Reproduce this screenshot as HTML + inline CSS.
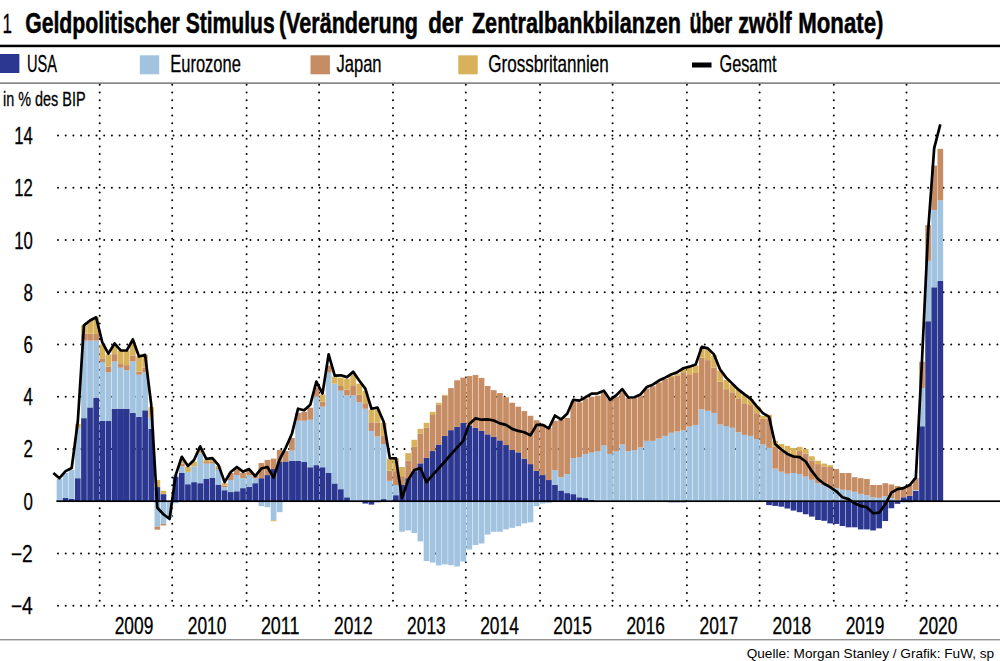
<!DOCTYPE html>
<html><head><meta charset="utf-8"><title>Geldpolitischer Stimulus</title>
<style>html,body{margin:0;padding:0;background:#fff}body{width:1000px;height:661px;overflow:hidden;font-family:"Liberation Sans",sans-serif}svg{display:block}text{font-family:"Liberation Sans",sans-serif;fill:#000}</style>
</head><body>
<svg width="1000" height="661" viewBox="0 0 1000 661">
<rect width="1000" height="661" fill="#fff"/>
<text x="2.6" y="32.8" font-size="28" textLength="9.5" lengthAdjust="spacingAndGlyphs" stroke="#000" stroke-width="0.3">1</text>
<text x="25.15" y="32.8" font-size="28.6" font-weight="bold" textLength="154.6" lengthAdjust="spacingAndGlyphs" stroke="#000" stroke-width="0.5">Geldpolitischer</text>
<text x="185.65" y="32.8" font-size="28.6" font-weight="bold" textLength="89.1" lengthAdjust="spacingAndGlyphs" stroke="#000" stroke-width="0.5">Stimulus</text>
<text x="278.9" y="32.8" font-size="28.6" font-weight="bold" textLength="139.1" lengthAdjust="spacingAndGlyphs" stroke="#000" stroke-width="0.5">(Veränderung</text>
<text x="428.15" y="32.8" font-size="28.6" font-weight="bold" textLength="34.85" lengthAdjust="spacingAndGlyphs" stroke="#000" stroke-width="0.5">der</text>
<text x="471.9" y="32.8" font-size="28.6" font-weight="bold" textLength="209.1" lengthAdjust="spacingAndGlyphs" stroke="#000" stroke-width="0.5">Zentralbankbilanzen</text>
<text x="689.4" y="32.8" font-size="28.6" font-weight="bold" textLength="42.85" lengthAdjust="spacingAndGlyphs" stroke="#000" stroke-width="0.5">über</text>
<text x="738.15" y="32.8" font-size="28.6" font-weight="bold" textLength="53.6" lengthAdjust="spacingAndGlyphs" stroke="#000" stroke-width="0.5">zwölf</text>
<text x="798.15" y="32.8" font-size="28.6" font-weight="bold" textLength="85.35" lengthAdjust="spacingAndGlyphs" stroke="#000" stroke-width="0.5">Monate)</text>
<rect x="0" y="44.7" width="1000" height="2.5" fill="#000"/>
<rect x="0" y="54" width="19.4" height="19" fill="#2b3790"/>
<rect x="139.8" y="55.3" width="19.4" height="19" fill="#a2c3e0"/>
<rect x="310.5" y="55.3" width="19.4" height="19" fill="#c68c64"/>
<rect x="458.3" y="55.3" width="19.4" height="19" fill="#d8b25a"/>
<rect x="692" y="62.5" width="19.5" height="5" fill="#000"/>
<text x="27" y="72.2" font-size="23.8" textLength="30" lengthAdjust="spacingAndGlyphs" stroke="#000" stroke-width="0.3">USA</text>
<text x="170.3" y="72.2" font-size="23.8" textLength="70.5" lengthAdjust="spacingAndGlyphs" stroke="#000" stroke-width="0.3">Eurozone</text>
<text x="336.5" y="72.2" font-size="23.8" textLength="45" lengthAdjust="spacingAndGlyphs" stroke="#000" stroke-width="0.3">Japan</text>
<text x="488.3" y="72.2" font-size="23.8" textLength="120.5" lengthAdjust="spacingAndGlyphs" stroke="#000" stroke-width="0.3">Grossbritannien</text>
<text x="719.5" y="72.2" font-size="23.8" textLength="57" lengthAdjust="spacingAndGlyphs" stroke="#000" stroke-width="0.3">Gesamt</text>
<rect x="0" y="82.5" width="1000" height="1.2" fill="#555"/>
<text x="3" y="106.2" font-size="19.3" textLength="82.6" lengthAdjust="spacingAndGlyphs" stroke="#000" stroke-width="0.3">in % des BIP</text>
<g stroke="#000" stroke-width="2" stroke-linecap="round" stroke-dasharray="0 7.7" fill="none">
<path d="M58 135.52H1001"/>
<path d="M58 187.76H1001"/>
<path d="M58 240H1001"/>
<path d="M58 292.24H1001"/>
<path d="M58 344.48H1001"/>
<path d="M58 396.72H1001"/>
<path d="M58 448.96H1001"/>
<path d="M58 553.44H1001"/>
<path d="M58 605.68H1001"/>
<path d="M99.7 84.8V607"/>
<path d="M172.2 84.8V607"/>
<path d="M246.6 84.8V607"/>
<path d="M319.1 84.8V607"/>
<path d="M393 84.8V607"/>
<path d="M465.8 84.8V607"/>
<path d="M540 84.8V607"/>
<path d="M612.6 84.8V607"/>
<path d="M686.9 84.8V607"/>
<path d="M759.6 84.8V607"/>
<path d="M833.8 84.8V607"/>
<path d="M906.5 84.8V607"/>
</g>
<text x="32.8" y="144.02" font-size="23.3" text-anchor="end" textLength="18.6" lengthAdjust="spacingAndGlyphs" stroke="#000" stroke-width="0.3">14</text>
<text x="32.8" y="196.26" font-size="23.3" text-anchor="end" textLength="18.6" lengthAdjust="spacingAndGlyphs" stroke="#000" stroke-width="0.3">12</text>
<text x="32.8" y="248.5" font-size="23.3" text-anchor="end" textLength="18.6" lengthAdjust="spacingAndGlyphs" stroke="#000" stroke-width="0.3">10</text>
<text x="32.8" y="300.74" font-size="23.3" text-anchor="end" textLength="9.4" lengthAdjust="spacingAndGlyphs" stroke="#000" stroke-width="0.3">8</text>
<text x="32.8" y="352.98" font-size="23.3" text-anchor="end" textLength="9.4" lengthAdjust="spacingAndGlyphs" stroke="#000" stroke-width="0.3">6</text>
<text x="32.8" y="405.22" font-size="23.3" text-anchor="end" textLength="9.4" lengthAdjust="spacingAndGlyphs" stroke="#000" stroke-width="0.3">4</text>
<text x="32.8" y="457.46" font-size="23.3" text-anchor="end" textLength="9.4" lengthAdjust="spacingAndGlyphs" stroke="#000" stroke-width="0.3">2</text>
<text x="32.8" y="509.7" font-size="23.3" text-anchor="end" textLength="9.4" lengthAdjust="spacingAndGlyphs" stroke="#000" stroke-width="0.3">0</text>
<text x="32.8" y="561.94" font-size="23.3" text-anchor="end" textLength="21.9" lengthAdjust="spacingAndGlyphs" stroke="#000" stroke-width="0.3">−2</text>
<text x="32.8" y="614.18" font-size="23.3" text-anchor="end" textLength="21.9" lengthAdjust="spacingAndGlyphs" stroke="#000" stroke-width="0.3">−4</text>
<rect x="56.65" y="500.68" width="5.67" height="0.52" fill="#2b3790"/>
<rect x="56.65" y="479" width="5.67" height="21.68" fill="#a2c3e0"/>
<rect x="62.77" y="497.8" width="5.67" height="3.4" fill="#2b3790"/>
<rect x="62.77" y="472.99" width="5.67" height="24.81" fill="#a2c3e0"/>
<rect x="68.88" y="498.85" width="5.67" height="2.35" fill="#2b3790"/>
<rect x="68.88" y="470.12" width="5.67" height="28.73" fill="#a2c3e0"/>
<rect x="75" y="478.21" width="5.67" height="22.99" fill="#2b3790"/>
<rect x="75" y="428.06" width="5.67" height="50.15" fill="#a2c3e0"/>
<rect x="75" y="423.88" width="5.67" height="4.18" fill="#d8b25a"/>
<rect x="81.12" y="418.14" width="5.67" height="83.06" fill="#2b3790"/>
<rect x="81.12" y="340.56" width="5.67" height="77.58" fill="#a2c3e0"/>
<rect x="81.12" y="333.51" width="6.12" height="7.05" fill="#c68c64"/>
<rect x="81.12" y="325.41" width="5.67" height="8.1" fill="#d8b25a"/>
<rect x="87.23" y="407.43" width="5.67" height="93.77" fill="#2b3790"/>
<rect x="87.23" y="340.56" width="5.67" height="66.87" fill="#a2c3e0"/>
<rect x="87.23" y="333.51" width="5.67" height="7.05" fill="#c68c64"/>
<rect x="87.23" y="320.45" width="5.67" height="13.06" fill="#d8b25a"/>
<rect x="93.35" y="397.76" width="5.67" height="103.44" fill="#2b3790"/>
<rect x="93.35" y="340.56" width="5.67" height="57.2" fill="#a2c3e0"/>
<rect x="93.35" y="334.03" width="5.67" height="6.53" fill="#c68c64"/>
<rect x="93.35" y="317.32" width="5.67" height="16.72" fill="#d8b25a"/>
<rect x="99.47" y="420.75" width="5.67" height="80.45" fill="#2b3790"/>
<rect x="99.47" y="361.98" width="5.67" height="58.77" fill="#a2c3e0"/>
<rect x="99.47" y="358.32" width="5.67" height="3.66" fill="#c68c64"/>
<rect x="99.47" y="344.48" width="5.67" height="13.84" fill="#d8b25a"/>
<rect x="105.59" y="421.01" width="5.67" height="80.19" fill="#2b3790"/>
<rect x="105.59" y="372.17" width="5.67" height="48.84" fill="#a2c3e0"/>
<rect x="105.59" y="366.68" width="5.67" height="5.49" fill="#c68c64"/>
<rect x="105.59" y="354.41" width="5.67" height="12.28" fill="#d8b25a"/>
<rect x="111.7" y="408.74" width="6.12" height="92.46" fill="#2b3790"/>
<rect x="111.7" y="361.46" width="5.67" height="47.28" fill="#a2c3e0"/>
<rect x="111.7" y="354.14" width="5.67" height="7.31" fill="#c68c64"/>
<rect x="111.7" y="344.48" width="5.67" height="9.66" fill="#d8b25a"/>
<rect x="117.82" y="408.74" width="6.12" height="92.46" fill="#2b3790"/>
<rect x="117.82" y="367.73" width="5.67" height="41.01" fill="#a2c3e0"/>
<rect x="117.82" y="364.07" width="5.67" height="3.66" fill="#c68c64"/>
<rect x="117.82" y="350.75" width="5.67" height="13.32" fill="#d8b25a"/>
<rect x="123.94" y="408.74" width="5.67" height="92.46" fill="#2b3790"/>
<rect x="123.94" y="370.34" width="5.67" height="38.4" fill="#a2c3e0"/>
<rect x="123.94" y="365.11" width="5.67" height="5.22" fill="#c68c64"/>
<rect x="123.94" y="350.75" width="5.67" height="14.37" fill="#d8b25a"/>
<rect x="130.05" y="412.91" width="5.67" height="88.29" fill="#2b3790"/>
<rect x="130.05" y="361.2" width="5.67" height="51.72" fill="#a2c3e0"/>
<rect x="130.05" y="355.45" width="5.67" height="5.75" fill="#c68c64"/>
<rect x="130.05" y="341.87" width="5.67" height="13.58" fill="#d8b25a"/>
<rect x="136.17" y="416.83" width="5.67" height="84.37" fill="#2b3790"/>
<rect x="136.17" y="374.78" width="5.67" height="42.05" fill="#a2c3e0"/>
<rect x="136.17" y="371.64" width="5.67" height="3.13" fill="#c68c64"/>
<rect x="136.17" y="356.5" width="5.67" height="15.15" fill="#d8b25a"/>
<rect x="142.29" y="410.3" width="5.67" height="90.9" fill="#2b3790"/>
<rect x="142.29" y="372.43" width="5.67" height="37.87" fill="#a2c3e0"/>
<rect x="142.29" y="367.73" width="5.67" height="4.7" fill="#c68c64"/>
<rect x="142.29" y="354.93" width="5.67" height="12.8" fill="#d8b25a"/>
<rect x="148.41" y="428.85" width="5.67" height="72.35" fill="#2b3790"/>
<rect x="148.41" y="417.62" width="5.67" height="11.23" fill="#a2c3e0"/>
<rect x="148.41" y="407.17" width="5.67" height="10.45" fill="#d8b25a"/>
<rect x="154.52" y="487.1" width="5.67" height="14.1" fill="#2b3790"/>
<rect x="154.52" y="480.04" width="5.67" height="7.05" fill="#d8b25a"/>
<rect x="154.52" y="501.2" width="5.67" height="25.34" fill="#a2c3e0"/>
<rect x="154.52" y="526.54" width="5.67" height="3.13" fill="#c68c64"/>
<rect x="160.64" y="494.15" width="5.67" height="7.05" fill="#2b3790"/>
<rect x="160.64" y="490.75" width="5.67" height="3.4" fill="#d8b25a"/>
<rect x="160.64" y="501.2" width="5.67" height="22.46" fill="#a2c3e0"/>
<rect x="160.64" y="523.66" width="5.67" height="1.83" fill="#c68c64"/>
<rect x="166.76" y="501.2" width="5.67" height="16.98" fill="#a2c3e0"/>
<rect x="172.87" y="476.91" width="5.67" height="24.29" fill="#2b3790"/>
<rect x="172.87" y="475.08" width="5.67" height="1.83" fill="#a2c3e0"/>
<rect x="172.87" y="501.2" width="5.67" height="2.09" fill="#a2c3e0"/>
<rect x="178.99" y="472.99" width="5.67" height="28.21" fill="#2b3790"/>
<rect x="178.99" y="466.46" width="5.67" height="6.53" fill="#a2c3e0"/>
<rect x="178.99" y="463.59" width="5.67" height="2.87" fill="#c68c64"/>
<rect x="178.99" y="459.41" width="5.67" height="4.18" fill="#d8b25a"/>
<rect x="185.11" y="484.22" width="5.67" height="16.98" fill="#2b3790"/>
<rect x="185.11" y="471.95" width="5.67" height="12.28" fill="#a2c3e0"/>
<rect x="185.11" y="466.72" width="5.67" height="5.22" fill="#d8b25a"/>
<rect x="191.22" y="482.13" width="5.67" height="19.07" fill="#2b3790"/>
<rect x="191.22" y="466.46" width="5.67" height="15.67" fill="#a2c3e0"/>
<rect x="191.22" y="461.5" width="5.67" height="4.96" fill="#d8b25a"/>
<rect x="197.34" y="483.18" width="5.67" height="18.02" fill="#2b3790"/>
<rect x="197.34" y="453.4" width="5.67" height="29.78" fill="#a2c3e0"/>
<rect x="197.34" y="448.96" width="5.67" height="4.44" fill="#d8b25a"/>
<rect x="203.46" y="479" width="5.67" height="22.2" fill="#2b3790"/>
<rect x="203.46" y="463.59" width="5.67" height="15.41" fill="#a2c3e0"/>
<rect x="203.46" y="462.02" width="6.12" height="1.57" fill="#c68c64"/>
<rect x="203.46" y="459.41" width="6.12" height="2.61" fill="#d8b25a"/>
<rect x="209.58" y="477.69" width="5.67" height="23.51" fill="#2b3790"/>
<rect x="209.58" y="463.59" width="5.67" height="14.1" fill="#a2c3e0"/>
<rect x="209.58" y="462.02" width="5.67" height="1.57" fill="#c68c64"/>
<rect x="209.58" y="459.41" width="5.67" height="2.61" fill="#d8b25a"/>
<rect x="215.69" y="485.01" width="5.67" height="16.19" fill="#2b3790"/>
<rect x="215.69" y="469.59" width="5.67" height="15.41" fill="#a2c3e0"/>
<rect x="215.69" y="468.03" width="5.67" height="1.57" fill="#c68c64"/>
<rect x="215.69" y="465.94" width="5.67" height="2.09" fill="#d8b25a"/>
<rect x="221.81" y="490.23" width="5.67" height="10.97" fill="#2b3790"/>
<rect x="221.81" y="487.1" width="5.67" height="3.13" fill="#a2c3e0"/>
<rect x="221.81" y="485.53" width="5.67" height="1.57" fill="#c68c64"/>
<rect x="221.81" y="483.18" width="5.67" height="2.35" fill="#d8b25a"/>
<rect x="227.93" y="492.06" width="5.67" height="9.14" fill="#2b3790"/>
<rect x="227.93" y="480.04" width="5.67" height="12.02" fill="#a2c3e0"/>
<rect x="227.93" y="472.99" width="5.67" height="7.05" fill="#c68c64"/>
<rect x="234.04" y="491.27" width="5.67" height="9.93" fill="#2b3790"/>
<rect x="234.04" y="475.08" width="5.67" height="16.19" fill="#a2c3e0"/>
<rect x="234.04" y="469.07" width="5.67" height="6.01" fill="#c68c64"/>
<rect x="240.16" y="488.14" width="5.67" height="13.06" fill="#2b3790"/>
<rect x="240.16" y="478.21" width="5.67" height="9.93" fill="#a2c3e0"/>
<rect x="240.16" y="472.99" width="5.67" height="5.22" fill="#c68c64"/>
<rect x="246.28" y="486.83" width="5.67" height="14.37" fill="#2b3790"/>
<rect x="246.28" y="475.08" width="5.67" height="11.75" fill="#a2c3e0"/>
<rect x="246.28" y="470.64" width="5.67" height="4.44" fill="#c68c64"/>
<rect x="252.39" y="483.18" width="5.67" height="18.02" fill="#2b3790"/>
<rect x="252.39" y="478.21" width="5.67" height="4.96" fill="#a2c3e0"/>
<rect x="252.39" y="475.08" width="5.67" height="3.13" fill="#c68c64"/>
<rect x="258.51" y="478.21" width="5.67" height="22.99" fill="#2b3790"/>
<rect x="258.51" y="463.06" width="5.67" height="15.15" fill="#c68c64"/>
<rect x="258.51" y="501.2" width="5.67" height="4.96" fill="#a2c3e0"/>
<rect x="264.63" y="475.08" width="5.67" height="26.12" fill="#2b3790"/>
<rect x="264.63" y="459.93" width="5.67" height="15.15" fill="#c68c64"/>
<rect x="264.63" y="501.2" width="5.67" height="6.01" fill="#a2c3e0"/>
<rect x="270.75" y="469.07" width="5.67" height="32.13" fill="#2b3790"/>
<rect x="270.75" y="458.62" width="5.67" height="10.45" fill="#c68c64"/>
<rect x="270.75" y="501.2" width="5.67" height="19.07" fill="#a2c3e0"/>
<rect x="270.75" y="520.27" width="5.67" height="1.04" fill="#d8b25a"/>
<rect x="276.86" y="462.02" width="5.67" height="39.18" fill="#2b3790"/>
<rect x="276.86" y="450" width="5.67" height="12.02" fill="#c68c64"/>
<rect x="276.86" y="501.2" width="5.67" height="10.97" fill="#a2c3e0"/>
<rect x="282.98" y="461.5" width="5.67" height="39.7" fill="#2b3790"/>
<rect x="282.98" y="451.05" width="5.67" height="10.45" fill="#c68c64"/>
<rect x="289.1" y="460.98" width="6.12" height="40.22" fill="#2b3790"/>
<rect x="289.1" y="450.53" width="5.67" height="10.45" fill="#a2c3e0"/>
<rect x="289.1" y="437.99" width="5.67" height="12.54" fill="#c68c64"/>
<rect x="295.21" y="460.98" width="5.67" height="40.22" fill="#2b3790"/>
<rect x="295.21" y="420.75" width="5.67" height="40.22" fill="#a2c3e0"/>
<rect x="295.21" y="412.91" width="5.67" height="7.84" fill="#c68c64"/>
<rect x="301.33" y="462.02" width="5.67" height="39.18" fill="#2b3790"/>
<rect x="301.33" y="420.75" width="5.67" height="41.27" fill="#a2c3e0"/>
<rect x="301.33" y="411.87" width="5.67" height="8.88" fill="#c68c64"/>
<rect x="307.45" y="467.24" width="5.67" height="33.96" fill="#2b3790"/>
<rect x="307.45" y="419.71" width="5.67" height="47.54" fill="#a2c3e0"/>
<rect x="307.45" y="407.69" width="5.67" height="12.02" fill="#c68c64"/>
<rect x="313.56" y="465.15" width="5.67" height="36.05" fill="#2b3790"/>
<rect x="313.56" y="396.72" width="5.67" height="68.43" fill="#a2c3e0"/>
<rect x="313.56" y="387.58" width="5.67" height="9.14" fill="#c68c64"/>
<rect x="319.68" y="467.24" width="5.67" height="33.96" fill="#2b3790"/>
<rect x="319.68" y="406.65" width="5.67" height="60.6" fill="#a2c3e0"/>
<rect x="319.68" y="401.68" width="5.67" height="4.96" fill="#c68c64"/>
<rect x="319.68" y="394.63" width="5.67" height="7.05" fill="#d8b25a"/>
<rect x="325.8" y="472.99" width="5.67" height="28.21" fill="#2b3790"/>
<rect x="325.8" y="372.69" width="5.67" height="100.3" fill="#a2c3e0"/>
<rect x="325.8" y="365.64" width="5.67" height="7.05" fill="#c68c64"/>
<rect x="331.91" y="483.44" width="5.67" height="17.76" fill="#2b3790"/>
<rect x="331.91" y="383.66" width="5.67" height="99.78" fill="#a2c3e0"/>
<rect x="331.91" y="376.61" width="5.67" height="7.05" fill="#d8b25a"/>
<rect x="338.03" y="489.18" width="5.67" height="12.02" fill="#2b3790"/>
<rect x="338.03" y="390.71" width="5.67" height="98.47" fill="#a2c3e0"/>
<rect x="338.03" y="386.01" width="5.67" height="4.7" fill="#c68c64"/>
<rect x="338.03" y="377.65" width="5.67" height="8.36" fill="#d8b25a"/>
<rect x="344.15" y="497.28" width="5.67" height="3.92" fill="#2b3790"/>
<rect x="344.15" y="395.41" width="5.67" height="101.87" fill="#a2c3e0"/>
<rect x="344.15" y="389.67" width="5.67" height="5.75" fill="#c68c64"/>
<rect x="344.15" y="378.7" width="5.67" height="10.97" fill="#d8b25a"/>
<rect x="350.27" y="500.68" width="5.67" height="0.52" fill="#2b3790"/>
<rect x="350.27" y="395.41" width="5.67" height="105.26" fill="#a2c3e0"/>
<rect x="350.27" y="385.23" width="5.67" height="10.19" fill="#c68c64"/>
<rect x="350.27" y="373.21" width="5.67" height="12.02" fill="#d8b25a"/>
<rect x="356.38" y="402.21" width="5.67" height="98.99" fill="#a2c3e0"/>
<rect x="356.38" y="394.63" width="5.67" height="7.57" fill="#c68c64"/>
<rect x="356.38" y="383.66" width="5.67" height="10.97" fill="#d8b25a"/>
<rect x="362.5" y="408.74" width="5.67" height="92.46" fill="#a2c3e0"/>
<rect x="362.5" y="403.25" width="5.67" height="5.49" fill="#c68c64"/>
<rect x="362.5" y="390.71" width="5.67" height="12.54" fill="#d8b25a"/>
<rect x="362.5" y="501.2" width="5.67" height="2.35" fill="#2b3790"/>
<rect x="368.62" y="430.94" width="5.67" height="70.26" fill="#a2c3e0"/>
<rect x="368.62" y="422.32" width="5.67" height="8.62" fill="#c68c64"/>
<rect x="368.62" y="409.78" width="5.67" height="12.54" fill="#d8b25a"/>
<rect x="368.62" y="501.2" width="5.67" height="3.4" fill="#2b3790"/>
<rect x="374.73" y="436.42" width="5.67" height="64.78" fill="#a2c3e0"/>
<rect x="374.73" y="422.84" width="5.67" height="13.58" fill="#c68c64"/>
<rect x="374.73" y="409.78" width="5.67" height="13.06" fill="#d8b25a"/>
<rect x="374.73" y="501.2" width="5.67" height="1.04" fill="#2b3790"/>
<rect x="380.85" y="499.11" width="5.67" height="2.09" fill="#2b3790"/>
<rect x="380.85" y="444" width="5.67" height="55.11" fill="#a2c3e0"/>
<rect x="380.85" y="435.9" width="5.67" height="8.1" fill="#c68c64"/>
<rect x="380.85" y="422.84" width="5.67" height="13.06" fill="#d8b25a"/>
<rect x="386.97" y="500.68" width="5.67" height="0.52" fill="#2b3790"/>
<rect x="386.97" y="480.83" width="5.67" height="19.85" fill="#a2c3e0"/>
<rect x="386.97" y="470.64" width="5.67" height="10.19" fill="#c68c64"/>
<rect x="386.97" y="458.62" width="5.67" height="12.02" fill="#d8b25a"/>
<rect x="393.08" y="495.19" width="5.67" height="6.01" fill="#2b3790"/>
<rect x="393.08" y="485.01" width="5.67" height="10.19" fill="#a2c3e0"/>
<rect x="393.08" y="471.16" width="5.67" height="13.84" fill="#c68c64"/>
<rect x="393.08" y="458.1" width="5.67" height="13.06" fill="#d8b25a"/>
<rect x="399.2" y="485.01" width="5.67" height="16.19" fill="#2b3790"/>
<rect x="399.2" y="476.12" width="5.67" height="8.88" fill="#c68c64"/>
<rect x="399.2" y="466.98" width="5.67" height="9.14" fill="#d8b25a"/>
<rect x="399.2" y="501.2" width="5.67" height="30.56" fill="#a2c3e0"/>
<rect x="405.32" y="478.21" width="5.67" height="22.99" fill="#2b3790"/>
<rect x="405.32" y="460.45" width="5.67" height="17.76" fill="#c68c64"/>
<rect x="405.32" y="453.14" width="5.67" height="7.31" fill="#d8b25a"/>
<rect x="405.32" y="501.2" width="5.67" height="29.25" fill="#a2c3e0"/>
<rect x="411.44" y="471.16" width="5.67" height="30.04" fill="#2b3790"/>
<rect x="411.44" y="446.87" width="5.67" height="24.29" fill="#c68c64"/>
<rect x="411.44" y="439.82" width="5.67" height="7.05" fill="#d8b25a"/>
<rect x="411.44" y="501.2" width="5.67" height="31.87" fill="#a2c3e0"/>
<rect x="417.55" y="463.33" width="5.67" height="37.87" fill="#2b3790"/>
<rect x="417.55" y="433.81" width="5.67" height="29.52" fill="#c68c64"/>
<rect x="417.55" y="428.85" width="5.67" height="4.96" fill="#d8b25a"/>
<rect x="417.55" y="501.2" width="5.67" height="40.22" fill="#a2c3e0"/>
<rect x="423.67" y="457.84" width="5.67" height="43.36" fill="#2b3790"/>
<rect x="423.67" y="427.8" width="5.67" height="30.04" fill="#c68c64"/>
<rect x="423.67" y="422.84" width="5.67" height="4.96" fill="#d8b25a"/>
<rect x="423.67" y="501.2" width="5.67" height="59.81" fill="#a2c3e0"/>
<rect x="429.79" y="451.05" width="5.67" height="50.15" fill="#2b3790"/>
<rect x="429.79" y="415" width="5.67" height="36.05" fill="#c68c64"/>
<rect x="429.79" y="411.87" width="5.67" height="3.13" fill="#d8b25a"/>
<rect x="429.79" y="501.2" width="5.67" height="61.38" fill="#a2c3e0"/>
<rect x="435.9" y="444.52" width="5.67" height="56.68" fill="#2b3790"/>
<rect x="435.9" y="404.56" width="5.67" height="39.96" fill="#c68c64"/>
<rect x="435.9" y="402.73" width="5.67" height="1.83" fill="#d8b25a"/>
<rect x="435.9" y="501.2" width="5.67" height="64.26" fill="#a2c3e0"/>
<rect x="442.02" y="435.9" width="5.67" height="65.3" fill="#2b3790"/>
<rect x="442.02" y="395.68" width="5.67" height="40.22" fill="#c68c64"/>
<rect x="442.02" y="394.89" width="5.67" height="0.78" fill="#d8b25a"/>
<rect x="442.02" y="501.2" width="5.67" height="63.21" fill="#a2c3e0"/>
<rect x="448.14" y="430.15" width="5.67" height="71.05" fill="#2b3790"/>
<rect x="448.14" y="388.1" width="5.67" height="42.05" fill="#c68c64"/>
<rect x="448.14" y="501.2" width="5.67" height="63.99" fill="#a2c3e0"/>
<rect x="454.25" y="426.76" width="5.67" height="74.44" fill="#2b3790"/>
<rect x="454.25" y="380.26" width="5.67" height="46.49" fill="#c68c64"/>
<rect x="454.25" y="501.2" width="5.67" height="65.3" fill="#a2c3e0"/>
<rect x="460.37" y="422.84" width="5.67" height="78.36" fill="#2b3790"/>
<rect x="460.37" y="377.65" width="5.67" height="45.19" fill="#c68c64"/>
<rect x="460.37" y="501.2" width="5.67" height="60.34" fill="#a2c3e0"/>
<rect x="466.49" y="425.45" width="5.67" height="75.75" fill="#2b3790"/>
<rect x="466.49" y="376.09" width="5.67" height="49.37" fill="#c68c64"/>
<rect x="466.49" y="501.2" width="5.67" height="48.32" fill="#a2c3e0"/>
<rect x="472.61" y="427.8" width="5.67" height="73.4" fill="#2b3790"/>
<rect x="472.61" y="375.04" width="5.67" height="52.76" fill="#c68c64"/>
<rect x="472.61" y="501.2" width="5.67" height="43.88" fill="#a2c3e0"/>
<rect x="478.72" y="430.94" width="5.67" height="70.26" fill="#2b3790"/>
<rect x="478.72" y="377.91" width="5.67" height="53.02" fill="#c68c64"/>
<rect x="478.72" y="501.2" width="5.67" height="42.31" fill="#a2c3e0"/>
<rect x="484.84" y="434.33" width="5.67" height="66.87" fill="#2b3790"/>
<rect x="484.84" y="386.01" width="5.67" height="48.32" fill="#c68c64"/>
<rect x="484.84" y="501.2" width="5.67" height="33.43" fill="#a2c3e0"/>
<rect x="490.96" y="436.94" width="5.67" height="64.26" fill="#2b3790"/>
<rect x="490.96" y="390.19" width="5.67" height="46.75" fill="#c68c64"/>
<rect x="490.96" y="501.2" width="5.67" height="30.56" fill="#a2c3e0"/>
<rect x="497.07" y="440.34" width="5.67" height="60.86" fill="#2b3790"/>
<rect x="497.07" y="393.06" width="5.67" height="47.28" fill="#c68c64"/>
<rect x="497.07" y="501.2" width="5.67" height="30.56" fill="#a2c3e0"/>
<rect x="503.19" y="445.04" width="5.67" height="56.16" fill="#2b3790"/>
<rect x="503.19" y="397.24" width="5.67" height="47.8" fill="#c68c64"/>
<rect x="503.19" y="501.2" width="5.67" height="28.21" fill="#a2c3e0"/>
<rect x="509.31" y="450" width="5.67" height="51.2" fill="#2b3790"/>
<rect x="509.31" y="402.73" width="5.67" height="47.28" fill="#c68c64"/>
<rect x="509.31" y="501.2" width="5.67" height="26.64" fill="#a2c3e0"/>
<rect x="515.42" y="452.36" width="5.67" height="48.84" fill="#2b3790"/>
<rect x="515.42" y="406.65" width="5.67" height="45.71" fill="#c68c64"/>
<rect x="515.42" y="501.2" width="5.67" height="25.08" fill="#a2c3e0"/>
<rect x="521.54" y="458.62" width="5.67" height="42.58" fill="#2b3790"/>
<rect x="521.54" y="411.09" width="5.67" height="47.54" fill="#c68c64"/>
<rect x="521.54" y="501.2" width="5.67" height="22.2" fill="#a2c3e0"/>
<rect x="527.66" y="464.11" width="5.67" height="37.09" fill="#2b3790"/>
<rect x="527.66" y="415.79" width="5.67" height="48.32" fill="#c68c64"/>
<rect x="527.66" y="501.2" width="5.67" height="21.16" fill="#a2c3e0"/>
<rect x="533.78" y="470.9" width="5.67" height="30.3" fill="#2b3790"/>
<rect x="533.78" y="420.23" width="5.67" height="50.67" fill="#c68c64"/>
<rect x="533.78" y="501.2" width="5.67" height="4.96" fill="#a2c3e0"/>
<rect x="539.89" y="475.08" width="5.67" height="26.12" fill="#2b3790"/>
<rect x="539.89" y="424.15" width="5.67" height="50.93" fill="#c68c64"/>
<rect x="539.89" y="501.2" width="5.67" height="2.35" fill="#a2c3e0"/>
<rect x="546.01" y="480.04" width="5.67" height="21.16" fill="#2b3790"/>
<rect x="546.01" y="427.8" width="5.67" height="52.24" fill="#c68c64"/>
<rect x="546.01" y="501.2" width="5.67" height="1.57" fill="#a2c3e0"/>
<rect x="552.13" y="485.01" width="5.67" height="16.19" fill="#2b3790"/>
<rect x="552.13" y="470.12" width="5.67" height="14.89" fill="#a2c3e0"/>
<rect x="552.13" y="420.75" width="5.67" height="49.37" fill="#c68c64"/>
<rect x="558.24" y="490.49" width="5.67" height="10.71" fill="#2b3790"/>
<rect x="558.24" y="477.17" width="5.67" height="13.32" fill="#a2c3e0"/>
<rect x="558.24" y="419.71" width="5.67" height="57.46" fill="#c68c64"/>
<rect x="564.36" y="493.1" width="5.67" height="8.1" fill="#2b3790"/>
<rect x="564.36" y="474.04" width="5.67" height="19.07" fill="#a2c3e0"/>
<rect x="564.36" y="417.88" width="5.67" height="56.16" fill="#c68c64"/>
<rect x="570.48" y="494.15" width="5.67" height="7.05" fill="#2b3790"/>
<rect x="570.48" y="458.1" width="5.67" height="36.05" fill="#a2c3e0"/>
<rect x="570.48" y="401.68" width="5.67" height="56.42" fill="#c68c64"/>
<rect x="576.6" y="497.28" width="5.67" height="3.92" fill="#2b3790"/>
<rect x="576.6" y="457.06" width="5.67" height="40.22" fill="#a2c3e0"/>
<rect x="576.6" y="402.21" width="5.67" height="54.85" fill="#c68c64"/>
<rect x="582.71" y="498.07" width="5.67" height="3.13" fill="#2b3790"/>
<rect x="582.71" y="453.92" width="5.67" height="44.14" fill="#a2c3e0"/>
<rect x="582.71" y="398.81" width="5.67" height="55.11" fill="#c68c64"/>
<rect x="588.83" y="499.63" width="5.67" height="1.57" fill="#2b3790"/>
<rect x="588.83" y="452.62" width="5.67" height="47.02" fill="#a2c3e0"/>
<rect x="588.83" y="396.72" width="5.67" height="55.9" fill="#c68c64"/>
<rect x="594.95" y="500.68" width="5.67" height="0.52" fill="#2b3790"/>
<rect x="594.95" y="451.05" width="5.67" height="49.63" fill="#a2c3e0"/>
<rect x="594.95" y="395.68" width="5.67" height="55.37" fill="#c68c64"/>
<rect x="601.06" y="445.56" width="5.67" height="55.64" fill="#a2c3e0"/>
<rect x="601.06" y="392.8" width="5.67" height="52.76" fill="#c68c64"/>
<rect x="607.18" y="453.92" width="5.67" height="47.28" fill="#a2c3e0"/>
<rect x="607.18" y="398.81" width="5.67" height="55.11" fill="#c68c64"/>
<rect x="613.3" y="451.05" width="5.67" height="50.15" fill="#a2c3e0"/>
<rect x="613.3" y="396.72" width="5.67" height="54.33" fill="#c68c64"/>
<rect x="619.41" y="444.52" width="5.67" height="56.68" fill="#a2c3e0"/>
<rect x="619.41" y="392.28" width="5.67" height="52.24" fill="#c68c64"/>
<rect x="625.53" y="451.05" width="5.67" height="50.15" fill="#a2c3e0"/>
<rect x="625.53" y="398.03" width="5.67" height="53.02" fill="#c68c64"/>
<rect x="631.65" y="450" width="5.67" height="51.2" fill="#a2c3e0"/>
<rect x="631.65" y="398.29" width="5.67" height="51.72" fill="#c68c64"/>
<rect x="637.76" y="447.39" width="5.67" height="53.81" fill="#a2c3e0"/>
<rect x="637.76" y="395.68" width="5.67" height="51.72" fill="#c68c64"/>
<rect x="643.88" y="440.86" width="6.12" height="60.34" fill="#a2c3e0"/>
<rect x="643.88" y="388.62" width="5.67" height="52.24" fill="#c68c64"/>
<rect x="643.88" y="501.2" width="5.67" height="0.78" fill="#2b3790"/>
<rect x="650" y="440.86" width="5.67" height="60.34" fill="#a2c3e0"/>
<rect x="650" y="386.27" width="5.67" height="54.59" fill="#c68c64"/>
<rect x="650" y="501.2" width="5.67" height="0.78" fill="#2b3790"/>
<rect x="656.12" y="438.51" width="5.67" height="62.69" fill="#a2c3e0"/>
<rect x="656.12" y="382.35" width="5.67" height="56.16" fill="#c68c64"/>
<rect x="656.12" y="501.2" width="5.67" height="0.78" fill="#2b3790"/>
<rect x="662.23" y="435.9" width="5.67" height="65.3" fill="#a2c3e0"/>
<rect x="662.23" y="378.96" width="5.67" height="56.94" fill="#c68c64"/>
<rect x="662.23" y="501.2" width="5.67" height="0.78" fill="#2b3790"/>
<rect x="668.35" y="432.77" width="5.67" height="68.43" fill="#a2c3e0"/>
<rect x="668.35" y="377.13" width="5.67" height="55.64" fill="#c68c64"/>
<rect x="668.35" y="375.82" width="5.67" height="1.31" fill="#d8b25a"/>
<rect x="668.35" y="501.2" width="5.67" height="1.04" fill="#2b3790"/>
<rect x="674.47" y="431.46" width="5.67" height="69.74" fill="#a2c3e0"/>
<rect x="674.47" y="375.56" width="5.67" height="55.9" fill="#c68c64"/>
<rect x="674.47" y="373.73" width="5.67" height="1.83" fill="#d8b25a"/>
<rect x="674.47" y="501.2" width="5.67" height="1.04" fill="#2b3790"/>
<rect x="680.58" y="430.41" width="5.67" height="70.79" fill="#a2c3e0"/>
<rect x="680.58" y="372.17" width="5.67" height="58.25" fill="#c68c64"/>
<rect x="680.58" y="369.03" width="5.67" height="3.13" fill="#d8b25a"/>
<rect x="680.58" y="501.2" width="5.67" height="1.04" fill="#2b3790"/>
<rect x="686.7" y="426.5" width="5.67" height="74.7" fill="#a2c3e0"/>
<rect x="686.7" y="374.26" width="5.67" height="52.24" fill="#c68c64"/>
<rect x="686.7" y="367.47" width="5.67" height="6.79" fill="#d8b25a"/>
<rect x="686.7" y="501.2" width="5.67" height="0.78" fill="#2b3790"/>
<rect x="692.82" y="424.93" width="5.67" height="76.27" fill="#a2c3e0"/>
<rect x="692.82" y="372.95" width="5.67" height="51.98" fill="#c68c64"/>
<rect x="692.82" y="365.64" width="5.67" height="7.31" fill="#d8b25a"/>
<rect x="698.93" y="409.26" width="5.67" height="91.94" fill="#a2c3e0"/>
<rect x="698.93" y="357.54" width="5.67" height="51.72" fill="#c68c64"/>
<rect x="698.93" y="347.61" width="5.67" height="9.93" fill="#d8b25a"/>
<rect x="705.05" y="410.82" width="5.67" height="90.38" fill="#a2c3e0"/>
<rect x="705.05" y="360.15" width="5.67" height="50.67" fill="#c68c64"/>
<rect x="705.05" y="349.44" width="5.67" height="10.71" fill="#d8b25a"/>
<rect x="711.17" y="412.91" width="5.67" height="88.29" fill="#a2c3e0"/>
<rect x="711.17" y="367.47" width="5.67" height="45.45" fill="#c68c64"/>
<rect x="711.17" y="355.45" width="5.67" height="12.02" fill="#d8b25a"/>
<rect x="717.29" y="424.41" width="5.67" height="76.79" fill="#a2c3e0"/>
<rect x="717.29" y="381.57" width="5.67" height="42.84" fill="#c68c64"/>
<rect x="717.29" y="370.6" width="5.67" height="10.97" fill="#d8b25a"/>
<rect x="723.4" y="425.97" width="5.67" height="75.23" fill="#a2c3e0"/>
<rect x="723.4" y="389.15" width="5.67" height="36.83" fill="#c68c64"/>
<rect x="723.4" y="379.74" width="5.67" height="9.4" fill="#d8b25a"/>
<rect x="729.52" y="427.8" width="5.67" height="73.4" fill="#a2c3e0"/>
<rect x="729.52" y="392.28" width="5.67" height="35.52" fill="#c68c64"/>
<rect x="729.52" y="384.18" width="5.67" height="8.1" fill="#d8b25a"/>
<rect x="735.64" y="432.24" width="5.67" height="68.96" fill="#a2c3e0"/>
<rect x="735.64" y="398.29" width="5.67" height="33.96" fill="#c68c64"/>
<rect x="735.64" y="389.67" width="5.67" height="8.62" fill="#d8b25a"/>
<rect x="741.75" y="434.86" width="5.67" height="66.34" fill="#a2c3e0"/>
<rect x="741.75" y="403.25" width="5.67" height="31.61" fill="#c68c64"/>
<rect x="741.75" y="394.63" width="5.67" height="8.62" fill="#d8b25a"/>
<rect x="747.87" y="435.9" width="5.67" height="65.3" fill="#a2c3e0"/>
<rect x="747.87" y="405.08" width="5.67" height="30.82" fill="#c68c64"/>
<rect x="747.87" y="399.07" width="5.67" height="6.01" fill="#d8b25a"/>
<rect x="753.99" y="439.03" width="5.67" height="62.17" fill="#a2c3e0"/>
<rect x="753.99" y="413.18" width="5.67" height="25.86" fill="#c68c64"/>
<rect x="753.99" y="405.86" width="5.67" height="7.31" fill="#d8b25a"/>
<rect x="760.11" y="444.52" width="5.67" height="56.68" fill="#a2c3e0"/>
<rect x="760.11" y="418.92" width="5.67" height="25.6" fill="#c68c64"/>
<rect x="760.11" y="415.79" width="5.67" height="3.13" fill="#d8b25a"/>
<rect x="760.11" y="501.2" width="5.67" height="0.78" fill="#2b3790"/>
<rect x="766.22" y="447.92" width="5.67" height="53.28" fill="#a2c3e0"/>
<rect x="766.22" y="418.4" width="5.67" height="29.52" fill="#c68c64"/>
<rect x="766.22" y="414.74" width="5.67" height="3.66" fill="#d8b25a"/>
<rect x="766.22" y="501.2" width="5.67" height="3.92" fill="#2b3790"/>
<rect x="772.34" y="468.55" width="5.67" height="32.65" fill="#a2c3e0"/>
<rect x="772.34" y="446.87" width="5.67" height="21.68" fill="#c68c64"/>
<rect x="772.34" y="440.86" width="5.67" height="6.01" fill="#d8b25a"/>
<rect x="772.34" y="501.2" width="5.67" height="4.7" fill="#2b3790"/>
<rect x="778.46" y="471.68" width="5.67" height="29.52" fill="#a2c3e0"/>
<rect x="778.46" y="450.53" width="5.67" height="21.16" fill="#c68c64"/>
<rect x="778.46" y="444" width="5.67" height="6.53" fill="#d8b25a"/>
<rect x="778.46" y="501.2" width="5.67" height="5.49" fill="#2b3790"/>
<rect x="784.57" y="473.77" width="5.67" height="27.43" fill="#a2c3e0"/>
<rect x="784.57" y="452.88" width="5.67" height="20.9" fill="#c68c64"/>
<rect x="784.57" y="445.83" width="5.67" height="7.05" fill="#d8b25a"/>
<rect x="784.57" y="501.2" width="5.67" height="7.31" fill="#2b3790"/>
<rect x="790.69" y="472.99" width="5.67" height="28.21" fill="#a2c3e0"/>
<rect x="790.69" y="454.97" width="5.67" height="18.02" fill="#c68c64"/>
<rect x="790.69" y="447.92" width="5.67" height="7.05" fill="#d8b25a"/>
<rect x="790.69" y="501.2" width="5.67" height="9.4" fill="#2b3790"/>
<rect x="796.81" y="474.04" width="5.67" height="27.16" fill="#a2c3e0"/>
<rect x="796.81" y="451.05" width="5.67" height="22.99" fill="#c68c64"/>
<rect x="796.81" y="446.87" width="5.67" height="4.18" fill="#d8b25a"/>
<rect x="796.81" y="501.2" width="5.67" height="10.97" fill="#2b3790"/>
<rect x="802.92" y="476.65" width="5.67" height="24.55" fill="#a2c3e0"/>
<rect x="802.92" y="453.66" width="5.67" height="22.99" fill="#c68c64"/>
<rect x="802.92" y="448.96" width="5.67" height="4.7" fill="#d8b25a"/>
<rect x="802.92" y="501.2" width="5.67" height="13.06" fill="#2b3790"/>
<rect x="809.04" y="479.78" width="5.67" height="21.42" fill="#a2c3e0"/>
<rect x="809.04" y="460.45" width="5.67" height="19.33" fill="#c68c64"/>
<rect x="809.04" y="456.27" width="5.67" height="4.18" fill="#d8b25a"/>
<rect x="809.04" y="501.2" width="5.67" height="15.41" fill="#2b3790"/>
<rect x="815.16" y="483.18" width="5.67" height="18.02" fill="#a2c3e0"/>
<rect x="815.16" y="464.11" width="5.67" height="19.07" fill="#c68c64"/>
<rect x="815.16" y="460.71" width="5.67" height="3.4" fill="#d8b25a"/>
<rect x="815.16" y="501.2" width="5.67" height="18.81" fill="#2b3790"/>
<rect x="821.27" y="485.01" width="5.67" height="16.19" fill="#a2c3e0"/>
<rect x="821.27" y="466.46" width="5.67" height="18.55" fill="#c68c64"/>
<rect x="821.27" y="463.59" width="5.67" height="2.87" fill="#d8b25a"/>
<rect x="821.27" y="501.2" width="5.67" height="19.59" fill="#2b3790"/>
<rect x="827.39" y="487.1" width="5.67" height="14.1" fill="#a2c3e0"/>
<rect x="827.39" y="466.98" width="5.67" height="20.11" fill="#c68c64"/>
<rect x="827.39" y="465.15" width="5.67" height="1.83" fill="#d8b25a"/>
<rect x="827.39" y="501.2" width="5.67" height="22.2" fill="#2b3790"/>
<rect x="833.51" y="488.14" width="5.67" height="13.06" fill="#a2c3e0"/>
<rect x="833.51" y="469.07" width="5.67" height="19.07" fill="#c68c64"/>
<rect x="833.51" y="501.2" width="5.67" height="22.72" fill="#2b3790"/>
<rect x="839.63" y="489.71" width="5.67" height="11.49" fill="#a2c3e0"/>
<rect x="839.63" y="472.99" width="5.67" height="16.72" fill="#c68c64"/>
<rect x="839.63" y="501.2" width="5.67" height="24.81" fill="#2b3790"/>
<rect x="845.74" y="490.49" width="5.67" height="10.71" fill="#a2c3e0"/>
<rect x="845.74" y="472.99" width="5.67" height="17.5" fill="#c68c64"/>
<rect x="845.74" y="501.2" width="5.67" height="26.12" fill="#2b3790"/>
<rect x="851.86" y="491.8" width="5.67" height="9.4" fill="#a2c3e0"/>
<rect x="851.86" y="477.17" width="5.67" height="14.63" fill="#c68c64"/>
<rect x="851.86" y="501.2" width="5.67" height="26.12" fill="#2b3790"/>
<rect x="857.98" y="493.89" width="5.67" height="7.31" fill="#a2c3e0"/>
<rect x="857.98" y="478.21" width="5.67" height="15.67" fill="#c68c64"/>
<rect x="857.98" y="501.2" width="5.67" height="28.21" fill="#2b3790"/>
<rect x="864.09" y="495.19" width="5.67" height="6.01" fill="#a2c3e0"/>
<rect x="864.09" y="479" width="5.67" height="16.19" fill="#c68c64"/>
<rect x="864.09" y="501.2" width="5.67" height="28.21" fill="#2b3790"/>
<rect x="870.21" y="497.28" width="5.67" height="3.92" fill="#a2c3e0"/>
<rect x="870.21" y="485.01" width="5.67" height="12.28" fill="#c68c64"/>
<rect x="870.21" y="501.2" width="5.67" height="29.25" fill="#2b3790"/>
<rect x="876.33" y="497.8" width="5.67" height="3.4" fill="#a2c3e0"/>
<rect x="876.33" y="485.01" width="5.67" height="12.8" fill="#c68c64"/>
<rect x="876.33" y="501.2" width="5.67" height="27.16" fill="#2b3790"/>
<rect x="882.44" y="496.24" width="5.67" height="4.96" fill="#a2c3e0"/>
<rect x="882.44" y="483.18" width="5.67" height="13.06" fill="#c68c64"/>
<rect x="882.44" y="501.2" width="5.67" height="19.85" fill="#2b3790"/>
<rect x="888.56" y="498.07" width="5.67" height="3.13" fill="#a2c3e0"/>
<rect x="888.56" y="484.48" width="5.67" height="13.58" fill="#c68c64"/>
<rect x="888.56" y="501.2" width="5.67" height="7.05" fill="#2b3790"/>
<rect x="894.68" y="499.89" width="5.67" height="1.31" fill="#a2c3e0"/>
<rect x="894.68" y="486.05" width="5.67" height="13.84" fill="#c68c64"/>
<rect x="894.68" y="501.2" width="5.67" height="2.61" fill="#2b3790"/>
<rect x="900.8" y="497.28" width="5.67" height="3.92" fill="#2b3790"/>
<rect x="900.8" y="486.83" width="5.67" height="10.45" fill="#c68c64"/>
<rect x="900.8" y="501.2" width="5.67" height="1.31" fill="#a2c3e0"/>
<rect x="906.91" y="495.71" width="5.67" height="5.49" fill="#2b3790"/>
<rect x="906.91" y="485.01" width="5.67" height="10.71" fill="#c68c64"/>
<rect x="906.91" y="501.2" width="5.67" height="1.31" fill="#a2c3e0"/>
<rect x="913.03" y="490.75" width="5.67" height="10.45" fill="#2b3790"/>
<rect x="913.03" y="489.97" width="5.67" height="0.78" fill="#a2c3e0"/>
<rect x="913.03" y="478.21" width="5.67" height="11.75" fill="#c68c64"/>
<rect x="919.15" y="426.24" width="5.67" height="74.96" fill="#2b3790"/>
<rect x="919.15" y="388.1" width="5.67" height="38.14" fill="#a2c3e0"/>
<rect x="919.15" y="361.72" width="5.67" height="26.38" fill="#c68c64"/>
<rect x="925.26" y="321.23" width="5.67" height="179.97" fill="#2b3790"/>
<rect x="925.26" y="260.9" width="5.67" height="60.34" fill="#a2c3e0"/>
<rect x="925.26" y="225.11" width="5.67" height="35.78" fill="#c68c64"/>
<rect x="931.38" y="287.28" width="5.67" height="213.92" fill="#2b3790"/>
<rect x="931.38" y="209.96" width="5.67" height="77.32" fill="#a2c3e0"/>
<rect x="931.38" y="165.56" width="5.67" height="44.4" fill="#c68c64"/>
<rect x="937.5" y="281.01" width="5.67" height="220.19" fill="#2b3790"/>
<rect x="937.5" y="200.3" width="5.67" height="80.71" fill="#a2c3e0"/>
<rect x="937.5" y="148.84" width="5.67" height="51.46" fill="#c68c64"/>
<rect x="56.4" y="500.35" width="944" height="1.7" fill="#000"/>
<path d="M53.34 472.99L59.46 478.21L65.58 471.16L71.69 468.03L77.81 421.53L83.93 325.41L90.04 320.45L96.16 317.32L102.28 342.39L108.39 353.62L114.51 343.44L120.63 350.49L126.75 350.49L132.86 339.52L138.98 356.5L145.1 354.93L151.21 404.56L157.33 507.73L163.45 514.26L169.56 518.96L175.68 475.08L181.8 456.8L187.92 465.94L194.03 459.93L200.15 446.35L206.27 458.89L212.38 458.1L218.5 465.15L224.62 482.13L230.73 471.95L236.85 466.98L242.97 471.68L249.09 469.07L255.2 476.12L261.32 468.55L267.44 466.98L273.55 477.69L279.67 459.41L285.79 447.65L291.9 433.81L298.02 408.74L304.14 410.3L310.26 404.82L316.37 381.57L322.49 393.59L328.61 354.41L334.72 375.56L340.84 375.3L346.96 377.13L353.07 371.64L359.19 380.53L365.31 388.62L371.43 408.74L377.54 407.69L383.66 421.8L389.78 458.1L395.89 458.36L402.01 498.07L408.13 480.04L414.24 470.12L420.36 468.03L426.48 482.13L432.6 475.08L438.71 468.29L444.83 461.5L450.95 454.45L457.06 447.65L463.18 440.86L469.3 423.88L475.41 418.4L481.53 419.71L487.65 419.44L493.77 420.49L499.88 423.36L506 424.93L512.12 428.85L518.23 430.94L524.35 432.24L530.47 435.38L536.58 424.93L542.7 424.93L548.82 428.33L554.94 415.53L561.05 419.44L567.17 413.7L573.29 399.85L579.4 400.64L585.52 397.24L591.64 393.59L597.75 393.32L603.87 390.71L609.99 399.85L616.11 395.41L622.22 389.15L628.34 397.5L634.46 397.24L640.57 394.37L646.69 387.06L652.81 384.7L658.92 380.53L665.04 377.65L671.16 374.52L677.28 372.17L683.39 368.25L689.51 366.68L695.63 364.59L701.74 346.83L707.86 348.4L713.98 354.41L720.09 369.56L726.21 377.65L732.33 383.66L738.45 389.67L744.56 394.37L750.68 398.81L756.8 406.38L762.91 413.18L769.03 416.83L775.15 444L781.26 449.48L787.38 453.92L793.5 456.53L799.62 457.06L805.73 461.5L811.85 471.16L817.97 479L824.08 483.7L830.2 487.1L836.32 491.27L842.43 497.28L848.55 499.11L854.67 503.29L860.79 505.9L866.9 507.21L873.02 513.22L879.14 512.69L885.25 504.33L891.37 492.58L897.49 489.18L903.6 488.14L909.72 485.01L915.84 477.69L921.96 361.2L928.07 231.9L934.19 148.06L940.31 124.29" fill="none" stroke="#000" stroke-width="2.7" stroke-linejoin="round" stroke-linecap="butt"/>
<text x="134" y="633.8" font-size="23.2" text-anchor="middle" textLength="38.6" lengthAdjust="spacingAndGlyphs" stroke="#000" stroke-width="0.3">2009</text>
<text x="207.1" y="633.8" font-size="23.2" text-anchor="middle" textLength="38.6" lengthAdjust="spacingAndGlyphs" stroke="#000" stroke-width="0.3">2010</text>
<text x="280.2" y="633.8" font-size="23.2" text-anchor="middle" textLength="38.6" lengthAdjust="spacingAndGlyphs" stroke="#000" stroke-width="0.3">2011</text>
<text x="353.3" y="633.8" font-size="23.2" text-anchor="middle" textLength="38.6" lengthAdjust="spacingAndGlyphs" stroke="#000" stroke-width="0.3">2012</text>
<text x="426.4" y="633.8" font-size="23.2" text-anchor="middle" textLength="38.6" lengthAdjust="spacingAndGlyphs" stroke="#000" stroke-width="0.3">2013</text>
<text x="499.5" y="633.8" font-size="23.2" text-anchor="middle" textLength="38.6" lengthAdjust="spacingAndGlyphs" stroke="#000" stroke-width="0.3">2014</text>
<text x="572.6" y="633.8" font-size="23.2" text-anchor="middle" textLength="38.6" lengthAdjust="spacingAndGlyphs" stroke="#000" stroke-width="0.3">2015</text>
<text x="645.7" y="633.8" font-size="23.2" text-anchor="middle" textLength="38.6" lengthAdjust="spacingAndGlyphs" stroke="#000" stroke-width="0.3">2016</text>
<text x="718.8" y="633.8" font-size="23.2" text-anchor="middle" textLength="38.6" lengthAdjust="spacingAndGlyphs" stroke="#000" stroke-width="0.3">2017</text>
<text x="791.9" y="633.8" font-size="23.2" text-anchor="middle" textLength="38.6" lengthAdjust="spacingAndGlyphs" stroke="#000" stroke-width="0.3">2018</text>
<text x="865" y="633.8" font-size="23.2" text-anchor="middle" textLength="38.6" lengthAdjust="spacingAndGlyphs" stroke="#000" stroke-width="0.3">2019</text>
<text x="938.1" y="633.8" font-size="23.2" text-anchor="middle" textLength="38.6" lengthAdjust="spacingAndGlyphs" stroke="#000" stroke-width="0.3">2020</text>
<rect x="0" y="639.3" width="1000" height="1" fill="#666"/>
<text x="994.2" y="658.2" font-size="13.3" text-anchor="end" fill="#5c5c5c" textLength="247.5" lengthAdjust="spacingAndGlyphs">Quelle: Morgan Stanley / Grafik: FuW, sp</text>
</svg>
</body></html>
